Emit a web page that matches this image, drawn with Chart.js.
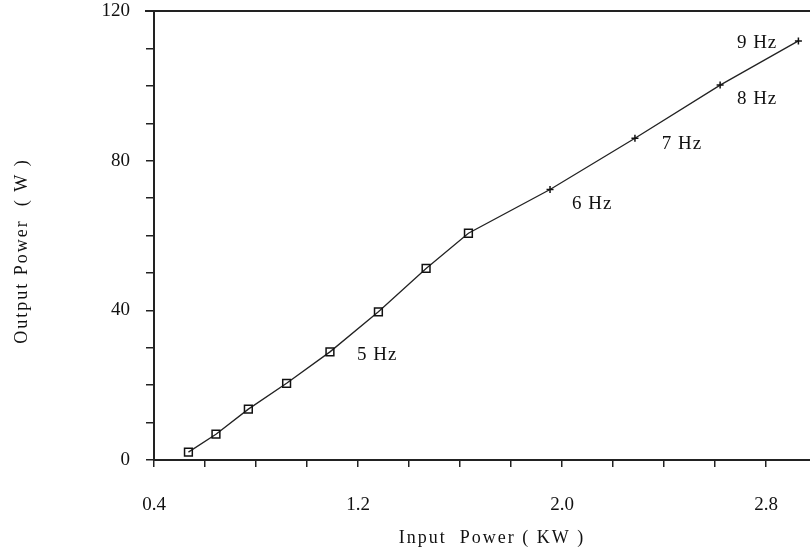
<!DOCTYPE html>
<html>
<head>
<meta charset="utf-8">
<script src="https://cdn.jsdelivr.net/npm/chart.js@4"></script>
<style>
  html, body { margin: 0; padding: 0; background: #fff; }
  #wrap { width: 810px; height: 554px; }
</style>
</head>
<body>
<div id="wrap"><canvas id="powerChart" width="810" height="554"></canvas></div>
<script>
const inputPower = [0.535, 0.643, 0.77, 0.92, 1.09, 1.28, 1.467, 1.633, 1.953, 2.286, 2.62, 2.927];
const outputPower = [2.1, 6.9, 13.6, 20.5, 28.9, 39.6, 51.2, 60.6, 72.3, 86.0, 100.2, 112.0];
const markerStyles = ['rect', 'rect', 'rect', 'rect', 'rect', 'rect', 'rect', 'rect', 'cross', 'cross', 'cross', 'cross'];

// Frequency notes next to the curve
const noteText = ['5 Hz', '6 Hz', '7 Hz', '8 Hz', '9 Hz'];
const noteX = [1.275, 2.118, 2.47, 2.765, 2.765];
const noteY = [28.1, 68.4, 84.4, 96.5, 111.4];

// Axis ticks and titles
const xTickValues = [0.4, 0.6, 0.8, 1.0, 1.2, 1.4, 1.6, 1.8, 2.0, 2.2, 2.4, 2.6, 2.8];
const xTickLabels = [0.4, 1.2, 2.0, 2.8];
const yTickValues = [0, 10, 20, 30, 40, 50, 60, 70, 80, 90, 100, 110, 120];
const yTickLabels = [0, 40, 80, 120];
const xTitle = 'Input  Power ( KW )';
const yTitle = 'Output Power  ( W )';

const serif = "'Liberation Serif', 'DejaVu Serif', serif";

const notesPlugin = {
    id: 'notes',
    afterDatasetsDraw(chart) {
        const ctx = chart.ctx;
        const xs = chart.scales.x, ys = chart.scales.y;
        const a = chart.chartArea;
        ctx.save();
        ctx.fillStyle = '#111';
        ctx.textAlign = 'center';
        ctx.textBaseline = 'middle';
        ctx.font = '19px ' + serif;
        ctx.letterSpacing = '1px';
        noteText.forEach((t, i) => {
            ctx.fillText(t, xs.getPixelForValue(noteX[i]), ys.getPixelForValue(noteY[i]));
        });

        // axis titles (the original lettering is wide)
        ctx.font = '18px ' + serif;
        ctx.letterSpacing = '2px';
        ctx.fillText(xTitle, 492, 538);
        ctx.translate(22, 251);
        ctx.rotate(-Math.PI / 2);
        ctx.fillText(yTitle, 0, 0);
        ctx.setTransform(1, 0, 0, 1, 0, 0);

        // top frame line
        ctx.strokeStyle = '#222';
        ctx.lineWidth = 2;
        ctx.beginPath();
        ctx.moveTo(a.left - 9, a.top);
        ctx.lineTo(chart.width, a.top);
        ctx.stroke();
        // x axis runs off the right edge of the picture
        ctx.beginPath();
        ctx.moveTo(a.right - 2, a.bottom);
        ctx.lineTo(chart.width, a.bottom);
        ctx.stroke();
        ctx.restore();
    }
};

new Chart(document.getElementById('powerChart').getContext('2d'), {
    type: 'line',
    data: {
        datasets: [{
            data: inputPower.map((x, i) => ({ x: x, y: outputPower[i] })),
            borderColor: '#222',
            borderWidth: 1.3,
            tension: 0,
            pointStyle: markerStyles,
            pointRadius: markerStyles.map(s => s === 'rect' ? 5.5 : 3.5),
            pointBorderColor: '#111',
            pointBorderWidth: 1.5,
            pointBackgroundColor: 'rgba(255,255,255,0)'
        }]
    },
    options: {
        responsive: false,
        animation: false,
        layout: { padding: { top: 11, left: 0, right: 0, bottom: 0 } },
        plugins: {
            legend: { display: false },
            tooltip: { enabled: false }
        },
        scales: {
            x: {
                type: 'linear',
                min: 0.4,
                max: 2.945,
                afterBuildTicks: scale => { scale.ticks = xTickValues.map(v => ({ value: v })); },
                afterFit: scale => { scale.height = 94; scale.paddingLeft = 0; scale.paddingRight = 0; },
                border: { display: true, color: '#222', width: 2 },
                grid: { display: true, drawOnChartArea: false, drawTicks: true, tickLength: 7, color: '#222', lineWidth: 1.5 },
                ticks: {
                    autoSkip: false,
                    maxRotation: 0,
                    padding: 27,
                    color: '#111',
                    font: { family: serif, size: 19 },
                    callback: v => xTickLabels.some(l => Math.abs(l - v) < 1e-6) ? v.toFixed(1) : ''
                },
                title: { display: false }
            },
            y: {
                type: 'linear',
                min: 0,
                max: 120,
                afterBuildTicks: scale => { scale.ticks = yTickValues.map(v => ({ value: v })); },
                afterFit: scale => { scale.width = 154; scale.paddingTop = 0; scale.paddingBottom = 0; },
                border: { display: true, color: '#222', width: 2 },
                grid: { display: true, drawOnChartArea: false, drawTicks: true, tickLength: 8, color: '#222', lineWidth: 1.5 },
                ticks: {
                    autoSkip: false,
                    padding: 16,
                    color: '#111',
                    font: { family: serif, size: 19 },
                    callback: v => yTickLabels.includes(v) ? String(v) : ''
                },
                title: { display: false }
            }
        }
    },
    plugins: [notesPlugin]
});
</script>
</body>
</html>
